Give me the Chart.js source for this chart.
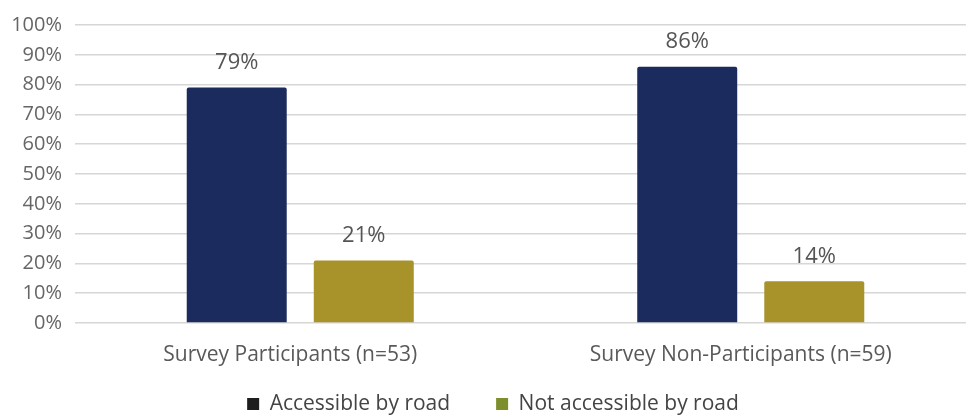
<!DOCTYPE html>
<html>
<head>
<meta charset="utf-8">
<script src="https://cdn.jsdelivr.net/npm/chart.js@4/dist/chart.umd.min.js"></script>
<style>
html,body{margin:0;padding:0;background:#fff;overflow:hidden;}
#wrap{width:976px;height:415px;}
</style>
</head>
<body>
<div id="wrap"><canvas id="c" width="976" height="415"></canvas></div>
<script>
const categories = ["Survey Participants (n=53)", "Survey Non-Participants (n=59)"];
const accessible = [79, 86];
const notAccessible = [21, 14];
const seriesNames = ["Accessible by road", "Not accessible by road"];
const yTicks = [0,10,20,30,40,50,60,70,80,90,100];

const barColors = ["#1b2b5e", "#a8922a"];
const legendColors = ["#1e1e1e", "#7d8f2c"];
const FONT = "'Open Sans', Lato, sans-serif";

const labelPlugin = {
  id: 'barLabels',
  afterDatasetsDraw(chart) {
    const ctx = chart.ctx;
    ctx.save();
    ctx.font = "22px " + FONT;
    ctx.fillStyle = "#555";
    ctx.textAlign = "center";
    ctx.textBaseline = "middle";
    chart.data.datasets.forEach((ds, i) => {
      chart.getDatasetMeta(i).data.forEach((bar, j) => {
        ctx.fillText(ds.data[j] + "%", bar.x, bar.y - 25);
      });
    });
    ctx.restore();
  }
};

new Chart(document.getElementById('c'), {
  type: 'bar',
  data: {
    labels: categories,
    datasets: [
      { label: seriesNames[0], data: accessible, backgroundColor: barColors[0], borderRadius: 2, barPercentage: 0.787, categoryPercentage: 0.564 },
      { label: seriesNames[1], data: notAccessible, backgroundColor: barColors[1], borderRadius: 2, barPercentage: 0.787, categoryPercentage: 0.564 }
    ]
  },
  options: {
    responsive: false,
    animation: false,
    devicePixelRatio: 1,
    layout: { padding: { top: 10, right: 0, bottom: -9.5, left: 10 } },
    scales: {
      x: {
        grid: { display: false },
        border: { display: false },
        afterFit(axis) {
          axis.height = 24.5;
          // let the category labels extend below the (short) axis box
          axis._computeLabelArea = () => undefined;
        },
        ticks: { color: "#595959", font: { family: FONT, size: 21 }, padding: 11, labelOffset: -10 }
      },
      y: {
        min: 0, max: 100,
        afterBuildTicks(axis) { axis.ticks = yTicks.map(v => ({ value: v })); },
        afterFit(axis) { axis.width = 65; },
        grid: { color: "#d6d6d6", lineWidth: 1.5, drawTicks: false },
        border: { display: false },
        ticks: { color: "#666", font: { family: FONT, size: 20 }, padding: 13, callback: v => v + "%" }
      }
    },
    plugins: {
      legend: {
        position: 'bottom',
        labels: {
          color: "#444",
          font: { family: FONT, size: 21 },
          boxWidth: 12, boxHeight: 12, padding: 46,
          generateLabels(chart) {
            return chart.data.datasets.map((ds, i) => ({
              text: ds.label, fillStyle: legendColors[i], strokeStyle: legendColors[i],
              lineWidth: 0, datasetIndex: i, hidden: false, fontColor: "#444"
            }));
          }
        }
      },
      tooltip: { enabled: false }
    }
  },
  plugins: [labelPlugin]
});
</script>
</body>
</html>
